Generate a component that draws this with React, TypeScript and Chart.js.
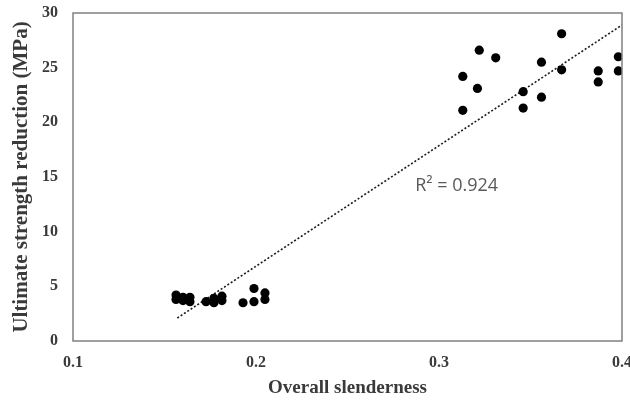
import React, { useEffect, useRef } from "react";
import { Chart, registerables } from "chart.js";

Chart.register(...registerables);

// Overall slenderness (x) and ultimate strength reduction in MPa (y)
const slenderness: number[] = [
  0.1563, 0.1563, 0.1601, 0.1601, 0.1639, 0.1639,
  0.1727, 0.177, 0.177, 0.1814, 0.1814,
  0.1929, 0.1989, 0.1989, 0.2049, 0.2049,
  0.313, 0.313, 0.322, 0.321, 0.331, 0.346, 0.346, 0.356, 0.356,
  0.367, 0.367, 0.387, 0.387, 0.398, 0.398,
];
const reduction: number[] = [
  4.2, 3.8, 4.0, 3.7, 4.0, 3.6,
  3.6, 3.9, 3.5, 4.1, 3.7,
  3.5, 4.8, 3.6, 4.4, 3.8,
  24.2, 21.1, 26.6, 23.1, 25.9, 22.8, 21.3, 25.5, 22.3,
  24.8, 28.1, 24.7, 23.7, 26.0, 24.7,
];

// Linear trendline end points
const trendX: number[] = [0.157, 0.4];
const trendY: number[] = [2.1, 28.9];

const xTicks: number[] = [0.1, 0.2, 0.3, 0.4];
const yTicks: number[] = [0, 5, 10, 15, 20, 25, 30];

const r2Label = "R\u00B2 = 0.924";
const r2Pos = { x: 0.287, y: 14.2 };

const TEXT = "#3a3a3a";
const SERIF = "'Liberation Serif', 'Times New Roman', serif";

export default function App() {
  const ref = useRef<HTMLCanvasElement | null>(null);

  useEffect(() => {
    document.body.style.margin = "0";
    const canvas = ref.current;
    if (!canvas) return;

    const framePlugin = {
      id: "frameAndLabel",
      afterDraw(chart: any) {
        const { ctx, chartArea, scales } = chart;
        ctx.save();
        ctx.strokeStyle = "#808080";
        ctx.lineWidth = 1.5;
        ctx.strokeRect(
          chartArea.left,
          chartArea.top,
          chartArea.right - chartArea.left,
          chartArea.bottom - chartArea.top
        );
        ctx.fillStyle = "#595959";
        ctx.font = "18px 'Open Sans', 'Liberation Sans', sans-serif";
        ctx.textAlign = "left";
        ctx.textBaseline = "middle";
        ctx.fillText(
          r2Label,
          scales.x.getPixelForValue(r2Pos.x),
          scales.y.getPixelForValue(r2Pos.y)
        );
        ctx.restore();
      },
    };

    const chart = new Chart(canvas, {
      type: "scatter",
      data: {
        datasets: [
          {
            label: "Data",
            data: slenderness.map((x, i) => ({ x, y: reduction[i] })),
            backgroundColor: "#000000",
            borderWidth: 0,
            pointRadius: 4.6,
            pointHoverRadius: 4.6,
          },
          {
            label: "Trend",
            data: trendX.map((x, i) => ({ x, y: trendY[i] })),
            showLine: true,
            borderColor: "#1a1a1a",
            borderWidth: 1.6,
            borderDash: [2, 2],
            pointRadius: 0,
            fill: false,
          },
        ],
      },
      options: {
        animation: false,
        responsive: false,
        devicePixelRatio: 1,
        layout: { padding: { top: 13, right: 8, left: 0, bottom: 0 } },
        plugins: {
          legend: { display: false },
          tooltip: { enabled: false },
        },
        scales: {
          x: {
            type: "linear",
            min: 0.1,
            max: 0.4,
            afterBuildTicks(scale: any) {
              scale.ticks = xTicks.map((v) => ({ value: v }));
            },
            afterFit(scale: any) {
              scale.height = 60;
              scale.paddingLeft = 0;
              scale.paddingRight = 0;
            },
            grid: { display: false, drawTicks: false },
            border: { display: false },
            ticks: {
              padding: 12,
              color: TEXT,
              font: { family: SERIF, size: 16, weight: "bold" },
              callback: (v: any) => Number(v).toFixed(1),
              maxRotation: 0,
            },
            title: {
              display: true,
              text: "Overall slenderness",
              color: TEXT,
              font: { family: SERIF, size: 19, weight: "bold" },
              padding: { top: 0, bottom: 2 },
            },
          },
          y: {
            type: "linear",
            min: 0,
            max: 30,
            afterBuildTicks(scale: any) {
              scale.ticks = yTicks.map((v) => ({ value: v }));
            },
            afterFit(scale: any) {
              scale.width = 73;
              scale.paddingTop = 0;
              scale.paddingBottom = 0;
            },
            grid: { display: false, drawTicks: false },
            border: { display: false },
            ticks: {
              padding: 15,
              color: TEXT,
              font: { family: SERIF, size: 16, weight: "bold" },
              callback: (v: any) => String(v),
            },
            title: {
              display: true,
              text: "Ultimate strength reduction (MPa)",
              color: TEXT,
              font: { family: SERIF, size: 21, weight: "bold" },
              padding: { top: 9, bottom: 0 },
            },
          },
        },
      },
      plugins: [framePlugin],
    } as any);

    return () => chart.destroy();
  }, []);

  return (
    <div style={{ width: 630, height: 401, background: "#ffffff" }}>
      <canvas ref={ref} width={630} height={401} style={{ display: "block" }} />
    </div>
  );
}
